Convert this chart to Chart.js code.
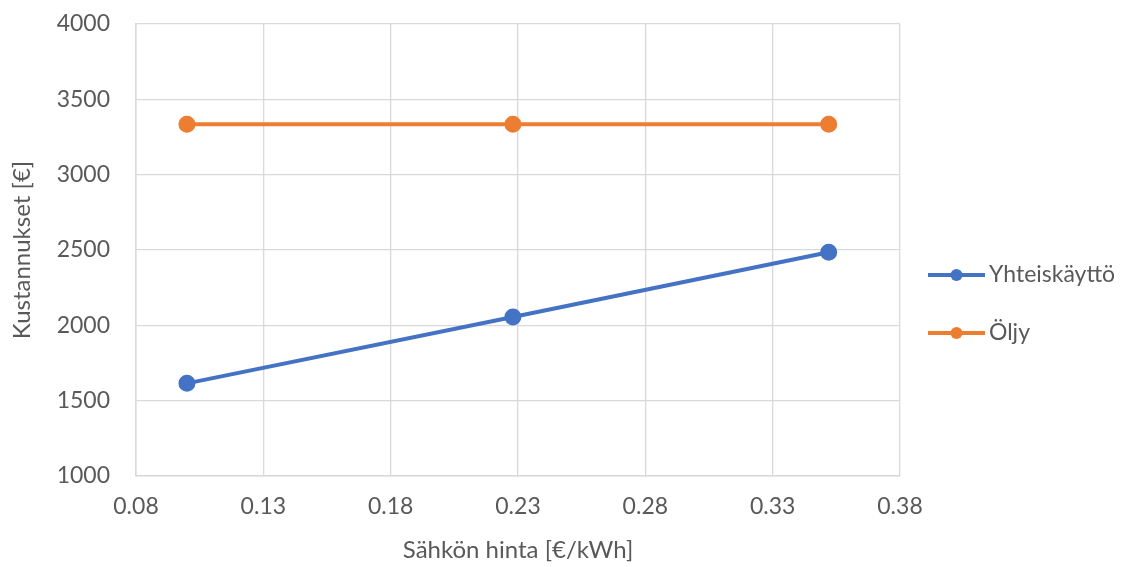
<!DOCTYPE html>
<html>
<head>
<meta charset="utf-8">
<script src="https://cdn.jsdelivr.net/npm/chart.js@4/dist/chart.umd.min.js"></script>
<style>
  html, body { margin: 0; padding: 0; background: #fff; }
  #wrap { width: 1130px; height: 567px; }
</style>
</head>
<body>
<div id="wrap"><canvas id="c" width="1130" height="567"></canvas></div>
<script>
// Electricity price [€/kWh] on the x axis
const prices = [0.10, 0.228, 0.352];
// Annual costs [€] for each heating option
const yhteiskayttoCosts = [1615, 2055, 2485];
const oljyCosts = [3335, 3335, 3335];
const seriesNames = ['Yhteiskäyttö', 'Öljy'];
const seriesColors = ['#4472C4', '#ED7D31'];
const xTicks = [0.08, 0.13, 0.18, 0.23, 0.28, 0.33, 0.38];
const yTicks = [1000, 1500, 2000, 2500, 3000, 3500, 4000];

const FONT = 'Lato, "Open Sans", sans-serif';
const TEXT = '#595959';
const GRID = '#d9d9d9';

const toPoints = (xs, ys) => xs.map((x, i) => ({ x, y: ys[i] }));

// Legend drawn to the right of the plot: a short line with a dot, then the name
const sideLegend = {
  id: 'sideLegend',
  afterDraw(chart) {
    const ctx = chart.ctx;
    const x0 = 928, x1 = 985, ys = [275, 333];
    chart.data.datasets.forEach((ds, i) => {
      const y = ys[i];
      ctx.save();
      ctx.strokeStyle = ds.borderColor;
      ctx.lineWidth = 4;
      ctx.beginPath();
      ctx.moveTo(x0, y);
      ctx.lineTo(x1, y);
      ctx.stroke();
      ctx.fillStyle = ds.borderColor;
      ctx.beginPath();
      ctx.arc((x0 + x1) / 2, y, 6, 0, Math.PI * 2);
      ctx.fill();
      ctx.fillStyle = TEXT;
      ctx.font = '23px ' + FONT;
      ctx.textBaseline = 'middle';
      ctx.textAlign = 'left';
      ctx.fillText(ds.label, x1 + 4, y);
      ctx.restore();
    });
  }
};

new Chart(document.getElementById('c'), {
  type: 'line',
  data: {
    datasets: [
      {
        label: seriesNames[0],
        data: toPoints(prices, yhteiskayttoCosts),
        borderColor: seriesColors[0],
        backgroundColor: seriesColors[0],
        borderWidth: 4,
        pointRadius: 6.5,
        pointHoverRadius: 6.5,
        tension: 0
      },
      {
        label: seriesNames[1],
        data: toPoints(prices, oljyCosts),
        borderColor: seriesColors[1],
        backgroundColor: seriesColors[1],
        borderWidth: 4,
        pointRadius: 6.5,
        pointHoverRadius: 6.5,
        tension: 0
      }
    ]
  },
  options: {
    responsive: false,
    animation: false,
    devicePixelRatio: 1,
    layout: { padding: { left: 0, top: 24, right: 230, bottom: 0 } },
    plugins: {
      legend: { display: false },
      tooltip: { enabled: false }
    },
    scales: {
      x: {
        type: 'linear',
        min: 0.08,
        max: 0.38,
        afterBuildTicks(scale) { scale.ticks = xTicks.map(v => ({ value: v })); },
        afterFit(scale) { scale.height = 91; },
        ticks: {
          color: TEXT,
          font: { family: FONT, size: 23 },
          padding: 17,
          callback: v => v.toFixed(2)
        },
        grid: { color: GRID, lineWidth: 1.3, drawTicks: false },
        border: { color: GRID, width: 1.5 },
        title: {
          display: true,
          text: 'Sähkön hinta [€/kWh]',
          color: TEXT,
          font: { family: FONT, size: 24 },
          padding: { top: 0, bottom: 2 }
        }
      },
      y: {
        min: 1000,
        max: 4000,
        afterBuildTicks(scale) { scale.ticks = yTicks.map(v => ({ value: v })); },
        afterFit(scale) {
          scale.width = 136;
          // keep the label overhang from pushing the plot area down
          scale.paddingTop = 0;
          scale.paddingBottom = 0;
        },
        ticks: {
          color: TEXT,
          font: { family: FONT, size: 23 },
          padding: 26,
          callback: v => String(v)
        },
        grid: { color: GRID, lineWidth: 1.3, drawTicks: false },
        border: { color: GRID, width: 1.5 },
        title: {
          display: true,
          text: 'Kustannukset [€]',
          color: TEXT,
          font: { family: FONT, size: 24 },
          padding: { top: 8, bottom: 0 }
        }
      }
    }
  },
  plugins: [sideLegend]
});
</script>
</body>
</html>
